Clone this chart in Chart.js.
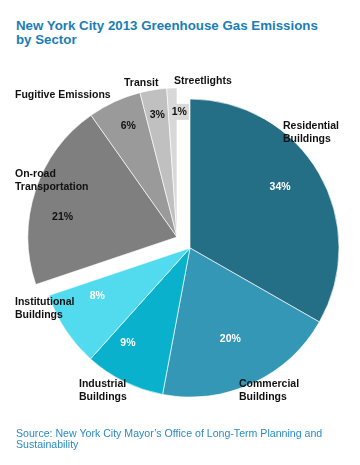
<!DOCTYPE html>
<html>
<head>
<meta charset="utf-8">
<script src="https://cdn.jsdelivr.net/npm/chart.js@4/dist/chart.umd.min.js"></script>
<style>
  html, body { margin: 0; padding: 0; background: #ffffff; }
  body { width: 360px; height: 465px; position: relative; overflow: hidden; font-family: "Liberation Sans", Arial, sans-serif; }
  #title { position: absolute; left: 16px; top: 19px; font-weight: bold; font-size: 13.3px; line-height: 14px; color: #1b7db6; }
  #source { position: absolute; left: 16px; top: 428px; font-size: 10.6px; line-height: 11px; color: #2b8bc6; }
  #wrap { position: absolute; left: 0; top: 0; width: 360px; height: 465px; }
</style>
</head>
<body>
<div id="title">New York City 2013 Greenhouse Gas Emissions<br>by Sector</div>
<div id="wrap"><canvas id="c" width="360" height="465"></canvas></div>
<div id="source">Source: New York City Mayor’s Office of Long-Term Planning and<br>Sustainability</div>
<script>
// ---- data ----
const categories = [
  ["Residential", "Buildings"],
  ["Commercial", "Buildings"],
  ["Industrial", "Buildings"],
  ["Institutional", "Buildings"],
  ["On-road", "Transportation"],
  ["Fugitive Emissions"],
  ["Transit"],
  ["Streetlights"]
];
// slice shares (percent of total)
const shares = [33.3, 19.7, 8.7, 8.2, 20.4, 5.8, 2.9, 1.1];
// percentage labels as printed on the chart
const pctLabels = ["34%", "20%", "9%", "8%", "21%", "6%", "3%", "1%"];
// which slices belong to the pulled-out (transportation & other) group
const pulledOut = [false, false, false, false, true, true, true, true];

// ---- styles (not data) ----
const colors = ["#246f86", "#3597b6", "#0ab1cd", "#52dbef", "#7f7f7f", "#9a9a9a", "#c0c0c0", "#d8d8d8"];
const pctColors = ["#ffffff", "#ffffff", "#ffffff", "#ffffff", "#111111", "#111111", "#111111", "#111111"];
const pctAngleNudge = [-4, 1, 7, 6, -8, 1, 0, 3];      // degrees
const pctRadius = [0.73, 0.67, 0.76, 0.70, 0.78, 0.81, 0.83, 0.84]; // fraction of outer radius
const pctBox = [null, null, null, null, null, null, null, "#d9d9d9"];
// category label anchors relative to the pie centre (left edge, first line middle)
const catPos = [
  [93, -122], [49, 136], [-111, 136], [-175, 54],
  [-175, -74], [-175, -153], [-66, -165], [-16, -167]
];
const GROUP_SHIFT = { x: -13, y: -11 };
const FONT = '"Liberation Sans", Arial, sans-serif';

const groupShift = {
  id: 'groupShift',
  afterDatasetUpdate(chart) {
    const meta = chart.getDatasetMeta(0);
    meta.data.forEach((arc, i) => {
      if (pulledOut[i]) { arc.x += GROUP_SHIFT.x; arc.y += GROUP_SHIFT.y; }
    });
  }
};

const labelPlugin = {
  id: 'sliceLabels',
  afterDatasetsDraw(chart) {
    const ctx = chart.ctx;
    const meta = chart.getDatasetMeta(0);
    const ca = chart.chartArea;
    const cx = (ca.left + ca.right) / 2, cy = (ca.top + ca.bottom) / 2;
    ctx.save();
    ctx.font = 'bold 10.5px ' + FONT;
    ctx.textBaseline = 'middle';
    meta.data.forEach((arc, i) => {
      const p = arc.getProps(['x', 'y', 'startAngle', 'endAngle', 'outerRadius'], true);
      const mid = (p.startAngle + p.endAngle) / 2 + pctAngleNudge[i] * Math.PI / 180;
      const r = p.outerRadius * pctRadius[i];
      const tx = p.x + Math.cos(mid) * r;
      const ty = p.y + Math.sin(mid) * r;
      ctx.textAlign = 'center';
      if (pctBox[i]) {
        const w = ctx.measureText(pctLabels[i]).width + 4;
        ctx.fillStyle = pctBox[i];
        ctx.fillRect(tx - w / 2, ty - 8, w, 16);
      }
      ctx.fillStyle = pctColors[i];
      ctx.fillText(pctLabels[i], tx, ty);
      // category labels
      ctx.textAlign = 'left';
      ctx.fillStyle = '#111111';
      categories[i].forEach((line, k) => {
        ctx.fillText(line, cx + catPos[i][0], cy + catPos[i][1] + k * 13);
      });
    });
    ctx.restore();
  }
};

new Chart(document.getElementById('c'), {
  type: 'pie',
  data: {
    labels: categories.map(c => c.join(' ')),
    datasets: [{
      data: shares,
      backgroundColor: colors,
      borderColor: 'rgba(255,255,255,0.8)',
      borderWidth: 0.8
    }]
  },
  options: {
    responsive: false,
    animation: false,
    radius: 149,
    layout: { padding: { left: 20, top: 31, right: 0, bottom: 0 } },
    events: [],
    plugins: {
      legend: { display: false },
      tooltip: { enabled: false },
      title: { display: false }
    }
  },
  plugins: [groupShift, labelPlugin]
});
</script>
</body>
</html>
